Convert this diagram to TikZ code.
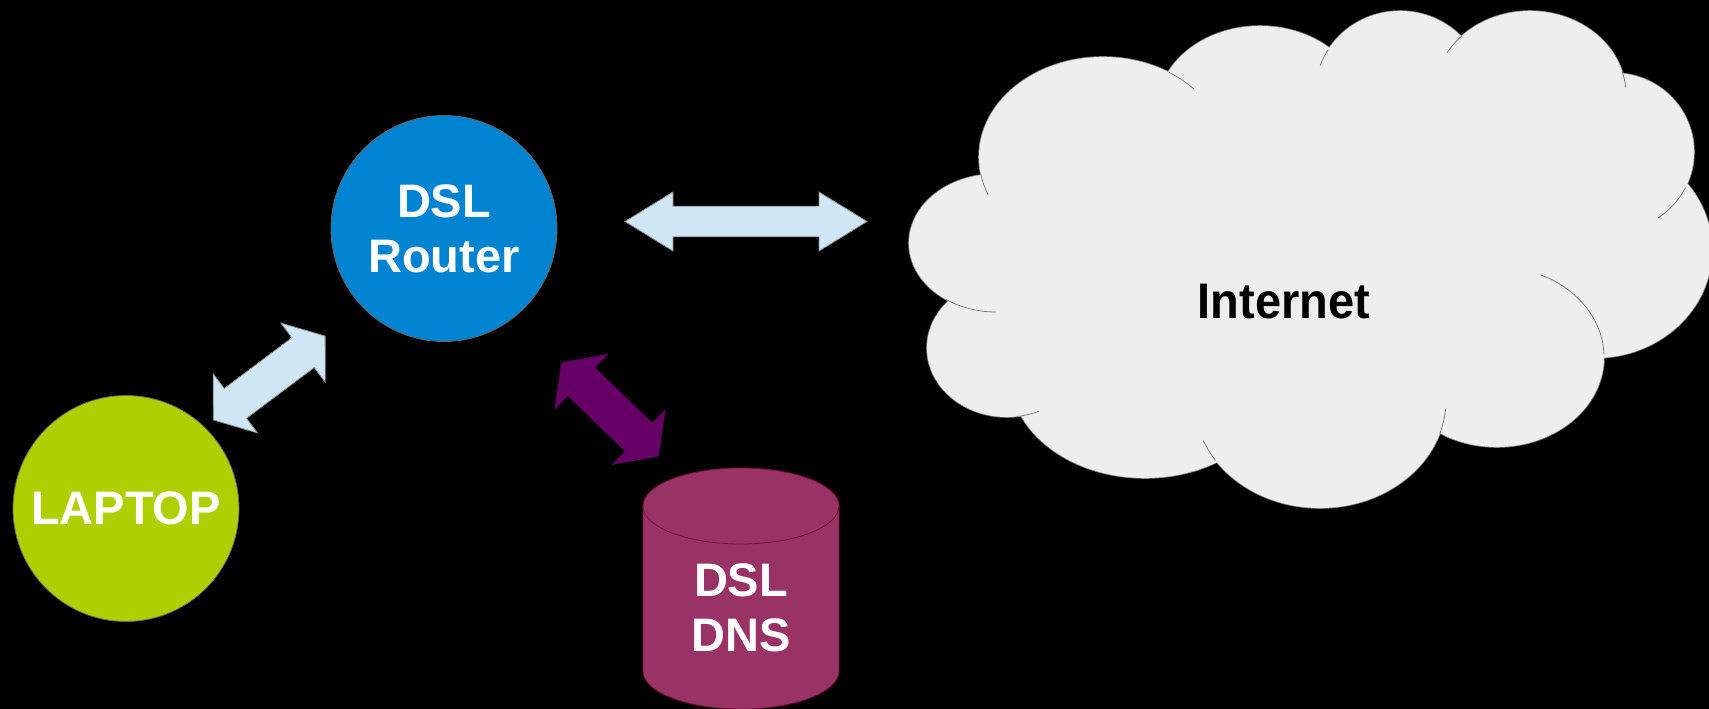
\documentclass[tikz,border=0pt]{standalone}
\usepackage{fontspec}
\setmainfont{Liberation Sans}
\definecolor{routerblue}{HTML}{0084D1}
\definecolor{laptopgreen}{HTML}{AFCF00}
\definecolor{dnswine}{HTML}{993366}
\definecolor{dnsline}{HTML}{7A1238}
\definecolor{arrowblue}{HTML}{CFE7F5}
\definecolor{arrowpurple}{HTML}{660066}
\definecolor{cloudfill}{HTML}{EEEEEE}
\definecolor{cloudline}{HTML}{7F7F7F}
\newcommand\blockarrow[8]{%
  \begin{scope}[shift={(#1,#2)},rotate=#3]
    \draw[#8] (-#4,0) -- (-#4+#5,#6) -- (-#4+#5,#7) -- (#4-#5,#7) -- (#4-#5,#6) -- (#4,0)
      -- (#4-#5,-#6) -- (#4-#5,-#7) -- (-#4+#5,-#7) -- (-#4+#5,-#6) -- cycle;
  \end{scope}}
\tikzset{
  bigtext/.style={font=\bfseries\fontsize{47}{55}\selectfont, text=white, align=center},
  disc/.style={circle, minimum size=226pt, inner sep=0pt, draw=black!60, line width=0.8pt},
  lightarrow/.style={fill=arrowblue, draw=black!45, line width=0.8pt},
  darkarrow/.style={fill=arrowpurple, draw=arrowpurple, line width=0.5pt},
  lobeline/.style={draw=cloudline, line width=1.6pt},
  lobefill/.style={fill=cloudfill},
  stubline/.style={draw=cloudline, line width=0.8pt}
}
\begin{document}
\begin{tikzpicture}[x=1pt,y=-1pt]
\fill[black] (0,0) rectangle (1709,709);
\useasboundingbox (0,0) rectangle (1709,709);

% cloud
\foreach \cx/\cy/\rx/\ry in {996/243/87/69, 1103/157/124/100, 1260/110/103/84, 1400/94/85/83,
  1530/95/96/84, 1614/152/80/79, 1595/250/117/108, 1497/357/107/90, 1320/400/126/108,
  1145/375/135/103, 1007/348/80/69}
  \draw[lobeline] (\cx,\cy) ellipse [x radius=\rx pt, y radius=\ry pt];
\foreach \cx/\cy/\rx/\ry in {996/243/87/69, 1103/157/124/100, 1260/110/103/84, 1400/94/85/83,
  1530/95/96/84, 1614/152/80/79, 1595/250/117/108, 1497/357/107/90, 1320/400/126/108,
  1145/375/135/103, 1007/348/80/69, 1300/265/280/160}
  \fill[lobefill] (\cx,\cy) ellipse [x radius=\rx pt, y radius=\ry pt];
\foreach \cx/\cy/\rx/\ry/\ta/\tb in {996/243/87/69/90/125, 1103/157/124/100/158/170,
  1103/157/124/100/-58/-43, 1400/94/85/83/-160/-148, 1530/95/96/84/-150/-135,
  1530/95/96/84/-17/-5, 1614/152/80/79/27/57, 1497/357/107/90/-66/-2,
  1320/400/126/108/5/18, 1320/400/126/108/146/158, 1007/348/80/69/66/83}
  \draw[stubline] plot[domain=\ta:\tb, samples=12, smooth] ({\cx+\rx*cos(\x)}, {\cy+\ry*sin(\x)});
\node[font=\bfseries\fontsize{50}{55}\selectfont, xscale=0.94, text=black] (internet) at (1284,301.5) {Internet};

% DNS cylinder
\fill[dnswine] (643,506) -- (643,671) arc[start angle=180, end angle=360, x radius=98pt, y radius=38pt]
  -- (839,506) arc[start angle=0, end angle=180, x radius=98pt, y radius=38pt] -- cycle;
\draw[dnsline, line width=0.8pt] (643,506) -- (643,671) arc[start angle=180, end angle=360, x radius=98pt, y radius=38pt]
  -- (839,506);
\draw[dnsline, line width=0.8pt] (741,506) ellipse [x radius=98pt, y radius=38pt];
\node[bigtext] (dns) at (741,607.5) {DSL\\DNS};

% nodes
\node[disc, fill=routerblue, bigtext] (router) at (444,228.5) {DSL\\Router};
\node[disc, fill=laptopgreen, bigtext] (laptop) at (126,508.5) {LAPTOP};

% block arrows
\blockarrow{746}{221.5}{0}{121}{48}{29.5}{15.3}{lightarrow}
\blockarrow{269.2}{378}{36.87}{69.9}{27.6}{37}{18.6}{lightarrow}
\blockarrow{610}{409.4}{-44}{67.2}{27.2}{38}{19.4}{darkarrow}
\end{tikzpicture}
\end{document}
